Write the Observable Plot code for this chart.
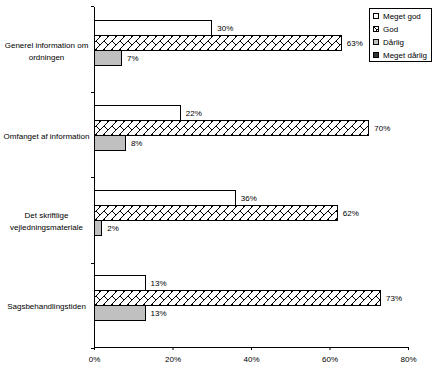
<!DOCTYPE html>
<html><head><meta charset="utf-8">
<script src="https://cdn.jsdelivr.net/npm/d3@7"></script>
<script src="https://cdn.jsdelivr.net/npm/@observablehq/plot@0.6"></script>
<style>
body{margin:0;background:#fff;font-family:"Liberation Sans",Arial,sans-serif;}
#wrap{position:relative;width:435px;height:367px;}
#legend{position:absolute;left:369px;top:8px;width:61px;height:52px;border:1px solid #000;background:#fff;font-size:8px;color:#000;}
#legend .item{position:absolute;left:3px;height:10px;display:flex;align-items:center;white-space:nowrap;}
#legend svg{margin-right:4px;}
</style></head><body><div id="wrap"></div>
<script>
const categories = ["Generel information om\nordningen", "Omfanget af information", "Det skriftlige\nvejledningsmateriale", "Sagsbehandlingstiden"];
const series = ["Meget god", "God", "Dårlig", "Meget dårlig"];
const megetGod = [30, 22, 36, 13];
const god = [63, 70, 62, 73];
const darlig = [7, 8, 2, 13];
const megetDarlig = [0, 0, 0, 0];
const xTicks = [0, 20, 40, 60, 80];
const fills = ["#ffffff", "url(#hatch)", "#c0c0c0", "#333333"];

const valuesBySeries = [megetGod, god, darlig, megetDarlig];
const rows = [];
categories.forEach((c, i) => series.forEach((s, j) => rows.push({cat: c, series: s, value: valuesBySeries[j][i]})));

const plot = Plot.plot({
  width: 435, height: 367,
  marginLeft: 94, marginRight: 27, marginTop: 6, marginBottom: 19,
  style: {fontFamily: "'Liberation Sans', Arial, sans-serif", fontSize: "8px", background: "transparent", color: "#000"},
  facet: {data: rows, y: "cat"},
  fy: {domain: categories, padding: 0, axis: null},
  y: {domain: series, paddingInner: 0, paddingOuter: 0.75, axis: null},
  x: {domain: [0, 80], ticks: xTicks, tickFormat: d => d + "%", tickSize: 3, line: true, label: null},
  color: {type: "ordinal", domain: series, range: fills},
  marks: [
    Plot.barX(rows, {filter: d => d.value > 0, y: "series", x: "value", fill: "series", stroke: "#000", strokeWidth: 1, shapeRendering: "crispEdges"}),
    Plot.text(rows, {filter: d => d.value > 0, y: "series", x: "value", text: d => d.value + "%", dx: 5, textAnchor: "start", fontSize: 8, fill: "#000"}),
    Plot.text(rows, {filter: d => d.series === series[0], text: "cat", frameAnchor: "left", dx: -48, textAnchor: "middle", fontSize: 8, lineHeight: 1.5, fill: "#000"}),
    Plot.ruleX([0], {stroke: "#000", shapeRendering: "crispEdges"})
  ]
});
document.getElementById("wrap").appendChild(plot);

const svg = plot.tagName.toLowerCase() === "svg" ? plot : plot.querySelector("svg");
const sel = d3.select(svg);
const defs = sel.insert("defs", ":first-child");
const pat = defs.append("pattern").attr("id", "hatch").attr("patternUnits", "userSpaceOnUse").attr("width", 8).attr("height", 8);
pat.append("rect").attr("width", 8).attr("height", 8).attr("fill", "#fff");
pat.append("path").attr("d", "M-1,9L9,-1M0,0L4,4").attr("stroke", "#000").attr("stroke-width", 1).attr("fill", "none");

// boundary ticks of the category axis from Plot's fy scale
const fy = plot.scale("fy");
const xs = plot.scale("x");
const x0 = xs.range[0];
const [r0, r1] = fy.range;
const step = (r1 - r0) / fy.domain.length;
const bounds = d3.range(fy.domain.length + 1).map(i => r0 + i * step);
sel.append("g").selectAll("line").data(bounds).join("line")
  .attr("x1", x0 - 3).attr("x2", x0).attr("y1", d => Math.round(d) + 0.5).attr("y2", d => Math.round(d) + 0.5)
  .attr("stroke", "#000");

// legend
const legend = d3.select("#wrap").append("div").attr("id", "legend");
series.forEach((s, i) => {
  const it = legend.append("div").attr("class", "item").style("top", (2 + i * 13) + "px");
  const sw = it.append("svg").attr("width", 6).attr("height", 6);
  sw.append("rect").attr("x", 0.5).attr("y", 0.5).attr("width", 5).attr("height", 5).attr("fill", fills[i]).attr("stroke", "#000");
  it.append("span").text(s);
});
</script></body></html>
